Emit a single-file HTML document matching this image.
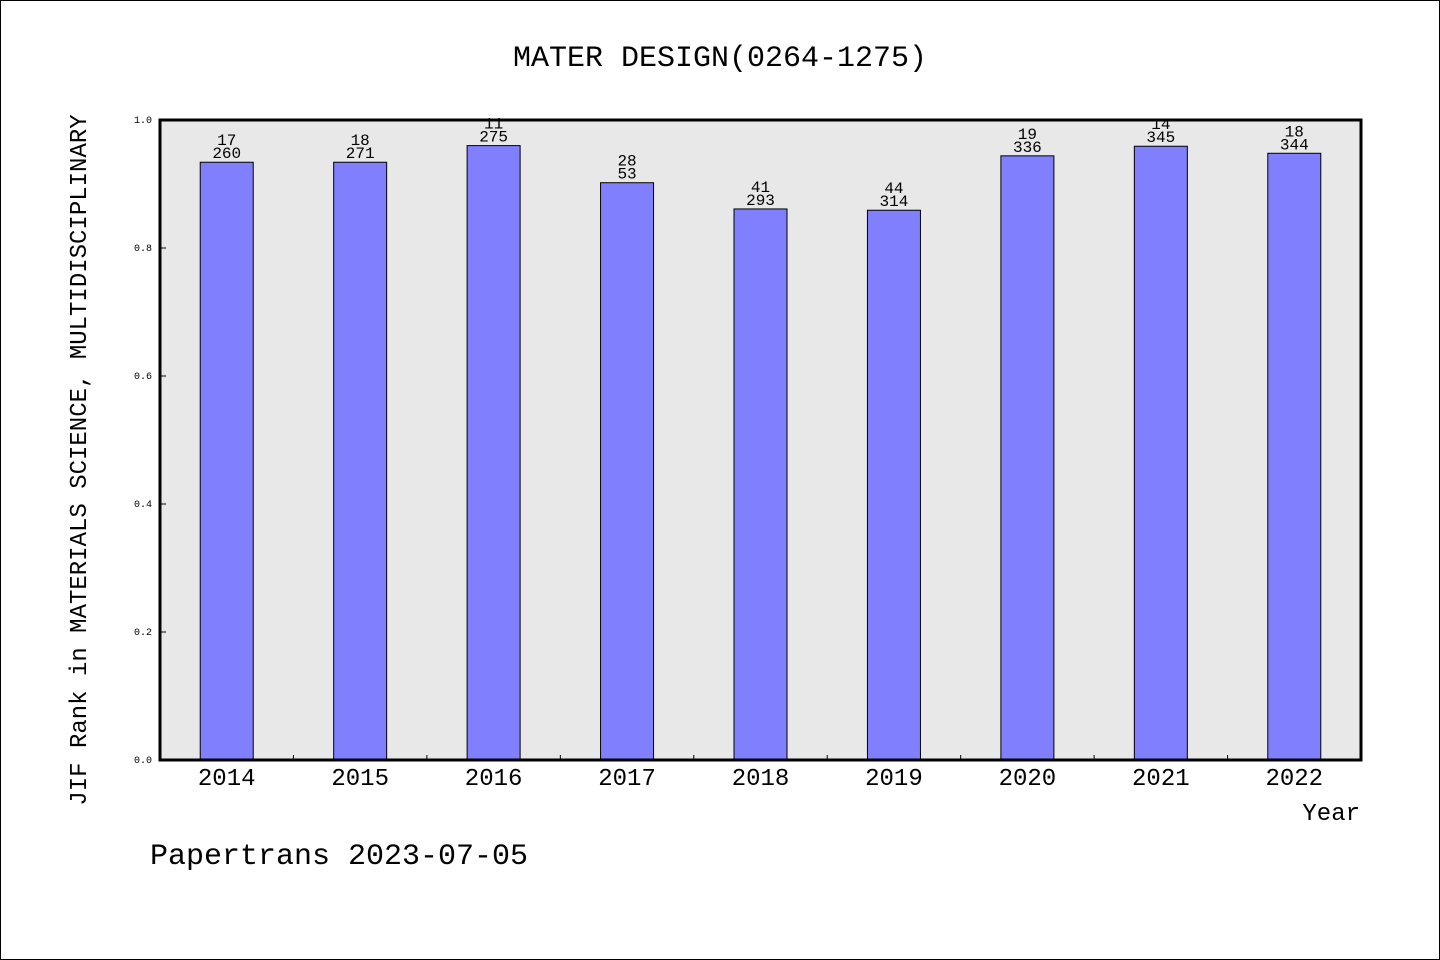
<!DOCTYPE html>
<html><head><meta charset="utf-8"><style>
body{margin:0;background:#fff}
svg{display:block}
text{font-family:"Liberation Mono","DejaVu Sans Mono",monospace;fill:#000}
</style></head><body>
<svg id="chart" width="1440" height="960" viewBox="0 0 1440 960">
<rect x="0.5" y="0.5" width="1439" height="959" fill="#fff" stroke="#000"/>
<text x="720" y="66" font-size="30" text-anchor="middle">MATER DESIGN(0264-1275)</text>
<rect x="160" y="120" width="1201" height="640" fill="#e8e8e8"/>
<g id="bars"></g>
<rect x="160" y="120" width="1201" height="640" fill="none" stroke="#000" stroke-width="3"/>
<g id="axes"></g>
<text transform="translate(86,460) rotate(-90)" font-size="24" text-anchor="middle">JIF Rank in MATERIALS SCIENCE, MULTIDISCIPLINARY</text>
<text x="1360" y="820" font-size="24" text-anchor="end">Year</text>
<text x="150" y="864" font-size="30">Papertrans 2023-07-05</text>
</svg>
<script>
const categories=["2014","2015","2016","2017","2018","2019","2020","2021","2022"];
const values=[0.934,0.934,0.96,0.902,0.861,0.859,0.944,0.959,0.948];
const ranks=["17","18","11","28","41","44","19","14","18"];
const totals=["260","271","275","53","293","314","336","345","344"];
const yTicks=[0,0.2,0.4,0.6,0.8,1.0];
const yTickLabels=["0.0","0.2","0.4","0.6","0.8","1.0"];
const NS="http://www.w3.org/2000/svg";
const x0=160,x1=1361,yTop=120,yBot=760;
const band=(x1-x0)/categories.length;
const xC=i=>x0+band*(i+0.5);
const yS=v=>yBot-(yBot-yTop)*v;
function mk(tag,attrs,parent){const e=document.createElementNS(NS,tag);for(const k in attrs)e.setAttribute(k,attrs[k]);parent.appendChild(e);return e;}
const bars=document.getElementById('bars'),axes=document.getElementById('axes');
categories.forEach((c,i)=>{
  const y=yS(values[i]);
  const r=mk('rect',{x:xC(i)-26.5,y:y,width:53,height:yBot-y,fill:'#8080ff',stroke:'#000','stroke-width':1},bars);
  
  
  const t1=mk('text',{x:xC(i),y:y-17,'font-size':16,'text-anchor':'middle'},bars);t1.textContent=ranks[i];
  
  
  const t2=mk('text',{x:xC(i),y:y-4,'font-size':16,'text-anchor':'middle'},bars);t2.textContent=totals[i];
  
  
  const xl=mk('text',{x:xC(i),y:785,'font-size':24,'text-anchor':'middle'},axes);xl.textContent=c;
  
  
  if(i>0){const tk=mk('line',{x1:x0+band*i,x2:x0+band*i,y1:yBot,y2:yBot-5,stroke:'#000'},axes);
  
  }
});
yTicks.forEach((v,i)=>{
  const y=yS(v);
  const tk=mk('line',{x1:x0,x2:x0+6,y1:y,y2:y,stroke:'#000'},axes);
  
  
  const t=mk('text',{x:152,y:y+3,'font-size':10,'text-anchor':'end'},axes);t.textContent=yTickLabels[i];
  
  
});
</script>
</body></html>
